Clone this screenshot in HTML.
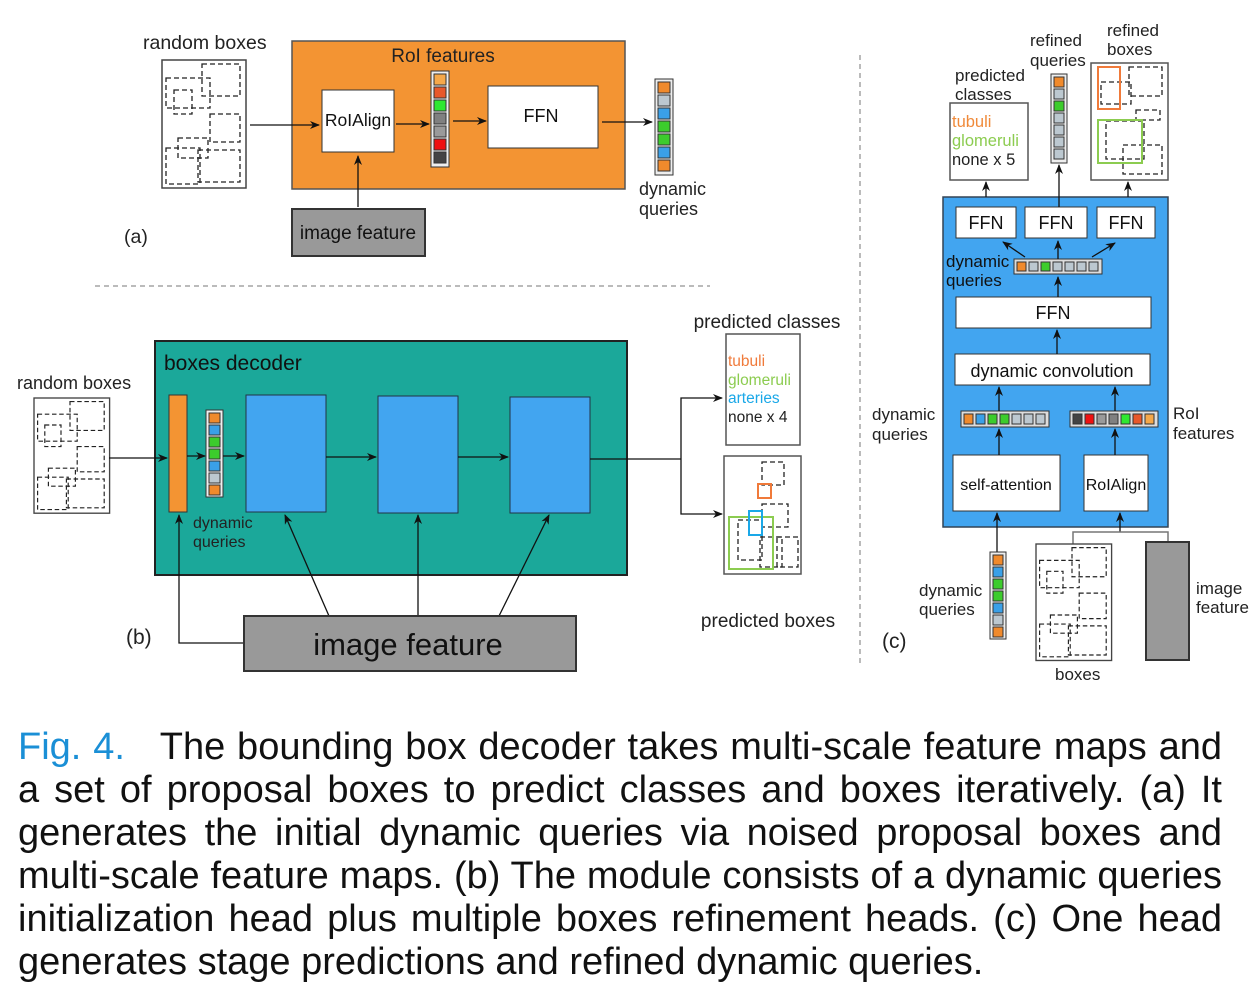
<!DOCTYPE html>
<html><head><meta charset="utf-8"><style>
body{margin:0;background:#fff;width:1254px;height:1000px;overflow:hidden}
svg{position:absolute;left:0;top:0}
.cap{position:absolute;left:18px;top:726px;width:1204px;font-family:"Liberation Sans",sans-serif;font-size:38px;line-height:43px;color:#111}
.cap div{text-align:justify;text-align-last:justify;white-space:nowrap}
.cap div.l{text-align-last:left}
.cap span{color:#1a8fd6}
</style></head><body>
<svg width="1254" height="720" font-family="Liberation Sans, sans-serif" fill="none">
<defs>
<marker id="a" markerWidth="10" markerHeight="8" refX="9" refY="4" orient="auto" markerUnits="userSpaceOnUse"><path d="M0,0 L10,4 L0,8 L3,4z" fill="#111"/></marker>
<g id="rb">
<rect x="0" y="0" width="84" height="128" fill="#fff" stroke="#444" stroke-width="1.5"/>
<g stroke="#222" stroke-dasharray="5,3" stroke-width="1.3">
<rect x="40" y="4" width="38" height="32"/><rect x="4" y="18" width="44" height="30"/><rect x="12" y="30" width="18" height="24"/>
<rect x="48" y="54" width="30" height="28"/><rect x="16" y="78" width="30" height="20"/><rect x="4" y="88" width="34" height="36"/><rect x="36" y="90" width="42" height="32"/>
</g></g>
</defs>
<!-- (a) -->
<g fill="#222" font-size="19.5"><text x="143" y="49">random boxes</text><text x="124" y="243">(a)</text></g>
<use href="#rb" x="162" y="60"/>
<rect x="292" y="41" width="333" height="148" fill="#f39433" stroke="#555" stroke-width="1.5"/>
<text x="443" y="62" fill="#222" font-size="19" text-anchor="middle">RoI features</text>
<rect x="322" y="90" width="72" height="62" fill="#fff" stroke="#333"/>
<text x="358" y="126" fill="#111" font-size="17.5" text-anchor="middle">RoIAlign</text>
<g stroke="#333" stroke-width="1"><rect x="431" y="71" width="18" height="96" fill="#eee"/>
<rect x="434" y="74" width="12" height="11" fill="#f5a84a"/><rect x="434" y="87" width="12" height="11" fill="#e8582a"/><rect x="434" y="100" width="12" height="11" fill="#2ee830"/><rect x="434" y="113" width="12" height="11" fill="#808080"/><rect x="434" y="126" width="12" height="11" fill="#9a9a9a"/><rect x="434" y="139" width="12" height="11" fill="#ee1111"/><rect x="434" y="152" width="12" height="11" fill="#444"/></g>
<rect x="488" y="86" width="110" height="62" fill="#fff" stroke="#333"/>
<text x="541" y="122" fill="#111" font-size="18" text-anchor="middle">FFN</text>
<g stroke="#111" stroke-width="1.3" marker-end="url(#a)">
<line x1="250" y1="125" x2="319" y2="125"/><line x1="396" y1="124" x2="429" y2="124"/><line x1="453" y1="121" x2="486" y2="121"/><line x1="602" y1="122" x2="652" y2="122"/><line x1="358" y1="207" x2="358" y2="156"/></g>
<g stroke="#333" stroke-width="1"><rect x="655" y="79" width="18" height="96" fill="#eee"/>
<rect x="658" y="82" width="12" height="11" fill="#f08a2c"/><rect x="658" y="95" width="12" height="11" fill="#bcc8d0"/><rect x="658" y="108" width="12" height="11" fill="#3aa0e8"/><rect x="658" y="121" width="12" height="11" fill="#3ccc2c"/><rect x="658" y="134" width="12" height="11" fill="#3ccc2c"/><rect x="658" y="147" width="12" height="11" fill="#3aa0e8"/><rect x="658" y="160" width="12" height="11" fill="#f08a2c"/></g>
<g fill="#222" font-size="18"><text x="639" y="195">dynamic</text><text x="639" y="215">queries</text></g>
<rect x="292" y="209" width="133" height="47" fill="#999" stroke="#333" stroke-width="2"/>
<text x="358" y="239" fill="#111" font-size="19" text-anchor="middle">image feature</text>
<!-- separators -->
<line x1="95" y1="286" x2="710" y2="286" stroke="#777" stroke-dasharray="5,4"/>
<line x1="860" y1="55" x2="860" y2="665" stroke="#777" stroke-dasharray="5,4"/>
<!-- (b) -->
<g fill="#222" font-size="18"><text x="17" y="389">random boxes</text></g>
<g transform="translate(34,398) scale(0.9,0.9)"><use href="#rb"/></g>
<rect x="155" y="341" width="472" height="234" fill="#1ba89a" stroke="#222" stroke-width="2"/>
<text x="164" y="370" fill="#111" font-size="21">boxes decoder</text>
<rect x="169" y="395" width="18" height="117" fill="#f39433" stroke="#333"/>
<g stroke="#333" stroke-width="1"><rect x="206" y="410" width="17" height="87" fill="#eee"/>
<rect x="209" y="413" width="11" height="10" fill="#f08a2c"/><rect x="209" y="425" width="11" height="10" fill="#3aa0e8"/><rect x="209" y="437" width="11" height="10" fill="#3ccc2c"/><rect x="209" y="449" width="11" height="10" fill="#3ccc2c"/><rect x="209" y="461" width="11" height="10" fill="#3aa0e8"/><rect x="209" y="473" width="11" height="10" fill="#bcc8d0"/><rect x="209" y="485" width="11" height="10" fill="#f08a2c"/></g>
<g fill="#42a5f0" stroke="#234"><rect x="246" y="395" width="80" height="117"/><rect x="378" y="396" width="80" height="117"/><rect x="510" y="397" width="80" height="116"/></g>
<g fill="#222" font-size="16"><text x="193" y="528">dynamic</text><text x="193" y="547">queries</text></g>
<g stroke="#111" stroke-width="1.3" marker-end="url(#a)">
<line x1="109" y1="458" x2="167" y2="458"/><line x1="187" y1="456" x2="205" y2="456"/><line x1="223" y1="456" x2="244" y2="456"/><line x1="326" y1="457" x2="376" y2="457"/><line x1="458" y1="457" x2="508" y2="457"/>
<polyline points="681,459 681,398 722,398"/><polyline points="681,459 681,514 722,514"/>
<line x1="329" y1="616" x2="285" y2="515"/><line x1="418" y1="616" x2="418" y2="515"/><line x1="499" y1="616" x2="549" y2="515"/>
<polyline points="244,643 179,643 179,515"/></g>
<line x1="590" y1="459" x2="681" y2="459" stroke="#111" stroke-width="1.3"/>
<text x="767" y="328" fill="#222" font-size="19" text-anchor="middle">predicted classes</text>
<rect x="726" y="334" width="74" height="111" fill="#fff" stroke="#555" stroke-width="1.5"/>
<g font-size="15.5"><text x="728" y="366" fill="#f07a3a">tubuli</text><text x="728" y="385" fill="#8ccc50">glomeruli</text><text x="728" y="403" fill="#1aa8e8">arteries</text><text x="728" y="422" fill="#222">none x 4</text></g>
<rect x="724" y="456" width="77" height="118" fill="#fff" stroke="#555" stroke-width="1.5"/>
<g stroke="#222" stroke-dasharray="5,3" stroke-width="1.3"><rect x="762" y="462" width="22" height="23"/><rect x="762" y="504" width="26" height="23"/><rect x="738" y="520" width="24" height="40"/><rect x="760" y="537" width="22" height="30"/><rect x="777" y="537" width="21" height="30"/></g>
<rect x="758" y="484" width="13" height="14" stroke="#f07a3a" stroke-width="2"/>
<rect x="729" y="517" width="44" height="52" stroke="#8ccc50" stroke-width="2"/>
<rect x="749" y="511" width="13" height="24" stroke="#1aa8e8" stroke-width="2"/>
<text x="768" y="627" fill="#222" font-size="19" text-anchor="middle">predicted boxes</text>
<rect x="244" y="616" width="332" height="55" fill="#999" stroke="#333" stroke-width="2"/>
<text x="408" y="655" fill="#111" font-size="31" text-anchor="middle">image feature</text>
<text x="126" y="644" fill="#222" font-size="21">(b)</text>
<!-- (c) -->
<g fill="#222" font-size="17"><text x="955" y="81">predicted</text><text x="955" y="100">classes</text><text x="1030" y="46">refined</text><text x="1030" y="66">queries</text><text x="1107" y="36">refined</text><text x="1107" y="55">boxes</text></g>
<rect x="950" y="103" width="78" height="77" fill="#fff" stroke="#555" stroke-width="1.5"/>
<g font-size="16.5"><text x="952" y="127" fill="#f08a3a">tubuli</text><text x="952" y="146" fill="#8ccc50">glomeruli</text><text x="952" y="165" fill="#222">none x 5</text></g>
<g stroke="#333" stroke-width="1"><rect x="1051" y="74" width="16" height="89" fill="#eee"/>
<rect x="1054" y="77" width="10" height="10" fill="#f08a2c"/><rect x="1054" y="89" width="10" height="10" fill="#bcc8d0"/><rect x="1054" y="101" width="10" height="10" fill="#3ccc2c"/><rect x="1054" y="113" width="10" height="10" fill="#bcc8d0"/><rect x="1054" y="125" width="10" height="10" fill="#bcc8d0"/><rect x="1054" y="137" width="10" height="10" fill="#bcc8d0"/><rect x="1054" y="149" width="10" height="10" fill="#bcc8d0"/></g>
<rect x="1091" y="63" width="77" height="117" fill="#fff" stroke="#555" stroke-width="1.5"/>
<g stroke="#222" stroke-dasharray="5,3" stroke-width="1.3"><rect x="1129" y="67" width="33" height="29"/><rect x="1101" y="82" width="30" height="22"/><rect x="1136" y="110" width="24" height="10"/><rect x="1106" y="121" width="38" height="38"/><rect x="1123" y="145" width="39" height="29"/></g>
<rect x="1098" y="67" width="22" height="42" stroke="#f07a3a" stroke-width="2"/>
<rect x="1098" y="120" width="44" height="43" stroke="#8ccc50" stroke-width="2"/>
<rect x="943" y="197" width="225" height="330" fill="#42a5f0" stroke="#345" stroke-width="1.5"/>
<g fill="#fff" stroke="#333"><rect x="956" y="207" width="60" height="31"/><rect x="1025" y="207" width="62" height="31"/><rect x="1097" y="207" width="58" height="31"/><rect x="956" y="297" width="195" height="31"/><rect x="955" y="354" width="195" height="31"/><rect x="953" y="455" width="107" height="56"/><rect x="1084" y="455" width="64" height="56"/></g>
<g fill="#111" font-size="18" text-anchor="middle"><text x="986" y="229">FFN</text><text x="1056" y="229">FFN</text><text x="1126" y="229">FFN</text><text x="1053" y="319">FFN</text><text x="1052" y="377">dynamic convolution</text></g>
<g fill="#111" font-size="16" text-anchor="middle"><text x="1006" y="490">self-attention</text><text x="1116" y="490">RoIAlign</text></g>
<g stroke="#333" stroke-width="1"><rect x="1014" y="259" width="88" height="15" fill="#ddd"/>
<rect x="1017" y="262" width="9" height="9" fill="#f08a2c"/><rect x="1029" y="262" width="9" height="9" fill="#bcc8d0"/><rect x="1041" y="262" width="9" height="9" fill="#3ccc2c"/><rect x="1053" y="262" width="9" height="9" fill="#bcc8d0"/><rect x="1065" y="262" width="9" height="9" fill="#bcc8d0"/><rect x="1077" y="262" width="9" height="9" fill="#bcc8d0"/><rect x="1089" y="262" width="9" height="9" fill="#bcc8d0"/>
<rect x="961" y="411" width="88" height="16" fill="#ddd"/>
<rect x="964" y="414" width="9" height="10" fill="#f08a2c"/><rect x="976" y="414" width="9" height="10" fill="#3aa0e8"/><rect x="988" y="414" width="9" height="10" fill="#3ccc2c"/><rect x="1000" y="414" width="9" height="10" fill="#3ccc2c"/><rect x="1012" y="414" width="9" height="10" fill="#bcc8d0"/><rect x="1024" y="414" width="9" height="10" fill="#bcc8d0"/><rect x="1036" y="414" width="9" height="10" fill="#bcc8d0"/>
<rect x="1070" y="411" width="88" height="16" fill="#ddd"/>
<rect x="1073" y="414" width="9" height="10" fill="#444"/><rect x="1085" y="414" width="9" height="10" fill="#ee1111"/><rect x="1097" y="414" width="9" height="10" fill="#9a9a9a"/><rect x="1109" y="414" width="9" height="10" fill="#808080"/><rect x="1121" y="414" width="9" height="10" fill="#2ee830"/><rect x="1133" y="414" width="9" height="10" fill="#e8582a"/><rect x="1145" y="414" width="9" height="10" fill="#f5a84a"/></g>
<g fill="#111" font-size="17"><text x="946" y="267">dynamic</text><text x="946" y="286">queries</text></g>
<g fill="#222" font-size="17"><text x="872" y="420">dynamic</text><text x="872" y="440">queries</text><text x="1173" y="419">RoI</text><text x="1173" y="439">features</text><text x="919" y="596">dynamic</text><text x="919" y="615">queries</text><text x="1055" y="680">boxes</text><text x="1196" y="594">image</text><text x="1196" y="613">feature</text></g>
<text x="882" y="648" fill="#222" font-size="21">(c)</text>
<g stroke="#111" stroke-width="1.3" marker-end="url(#a)">
<line x1="986" y1="197" x2="986" y2="182"/><line x1="1059" y1="207" x2="1059" y2="165"/><line x1="1128" y1="197" x2="1128" y2="182"/>
<line x1="1025" y1="257" x2="1003" y2="242"/><line x1="1058" y1="259" x2="1058" y2="241"/><line x1="1092" y1="257" x2="1115" y2="243"/>
<line x1="1058" y1="297" x2="1058" y2="277"/><line x1="1057" y1="354" x2="1057" y2="330"/>
<line x1="999" y1="411" x2="999" y2="387"/><line x1="1115" y1="411" x2="1115" y2="387"/>
<line x1="999" y1="455" x2="999" y2="429"/><line x1="1115" y1="455" x2="1115" y2="429"/>
<line x1="997" y1="552" x2="997" y2="513"/><line x1="1120" y1="532" x2="1120" y2="513"/></g>
<polyline points="1073,544 1073,532 1168,532 1168,542" stroke="#777" stroke-width="1.5"/>
<g stroke="#333" stroke-width="1"><rect x="990" y="552" width="16" height="87" fill="#eee"/>
<rect x="993" y="555" width="10" height="10" fill="#f08a2c"/><rect x="993" y="567" width="10" height="10" fill="#3aa0e8"/><rect x="993" y="579" width="10" height="10" fill="#3ccc2c"/><rect x="993" y="591" width="10" height="10" fill="#3ccc2c"/><rect x="993" y="603" width="10" height="10" fill="#3aa0e8"/><rect x="993" y="615" width="10" height="10" fill="#bcc8d0"/><rect x="993" y="627" width="10" height="10" fill="#f08a2c"/></g>
<g transform="translate(1036,544) scale(0.9,0.91)"><use href="#rb"/></g>
<rect x="1146" y="542" width="43" height="118" fill="#999" stroke="#333" stroke-width="2"/>
</svg>
<div class="cap">
<div><span>Fig. 4.</span>&nbsp;&nbsp; The bounding box decoder takes multi-scale feature maps and</div>
<div>a set of proposal boxes to predict classes and boxes iteratively. (a) It</div>
<div>generates the initial dynamic queries via noised proposal boxes and</div>
<div>multi-scale feature maps. (b) The module consists of a dynamic queries</div>
<div>initialization head plus multiple boxes refinement heads. (c) One head</div>
<div class="l">generates stage predictions and refined dynamic queries.</div>
</div>
</body></html>
